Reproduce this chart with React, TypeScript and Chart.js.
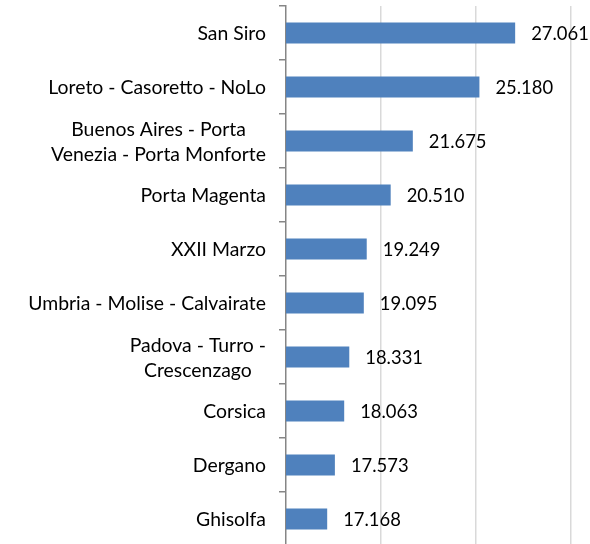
import React, { useEffect, useRef } from "react";
import { Chart, registerables } from "chart.js";

Chart.register(...registerables);

const categories: string[][] = [
  ["San Siro"],
  ["Loreto - Casoretto - NoLo"],
  ["Buenos Aires - Porta", "Venezia - Porta Monforte"],
  ["Porta Magenta"],
  ["XXII Marzo"],
  ["Umbria - Molise - Calvairate"],
  ["Padova - Turro -", "Crescenzago"],
  ["Corsica"],
  ["Dergano"],
  ["Ghisolfa"],
];
const values: number[] = [27061, 25180, 21675, 20510, 19249, 19095, 18331, 18063, 17573, 17168];
const axisMin = 15000;
const axisMax = 30000;
const axisStep = 5000;

const FONT = "Lato, 'Open Sans', sans-serif";
const CAT_SIZE = 19.4;
const VAL_SIZE = 18.4;

const fmt = (v: number) => (v / 1000).toFixed(3);

const labelPlugin = {
  id: "customLabels",
  afterDraw(chart: any) {
    const ctx = chart.ctx as CanvasRenderingContext2D;
    const yScale = chart.scales.y;
    ctx.save();
    ctx.fillStyle = "#000";
    ctx.textBaseline = "middle";
    // category labels
    ctx.font = `${CAT_SIZE}px ${FONT}`;
    ctx.textAlign = "center";
    const rightEdge = yScale.right - 20;
    categories.forEach((lines, i) => {
      const cy = yScale.getPixelForValue(i);
      const maxW = Math.max(...lines.map((l) => ctx.measureText(l).width));
      const cx = rightEdge - maxW / 2;
      const lh = 25;
      const start = cy - ((lines.length - 1) * lh) / 2;
      lines.forEach((l, j) => ctx.fillText(l, cx, start + j * lh + 1));
    });
    // value labels
    ctx.font = `${VAL_SIZE}px ${FONT}`;
    ctx.textAlign = "left";
    const meta = chart.getDatasetMeta(0);
    meta.data.forEach((bar: any, i: number) => {
      ctx.fillText(fmt(values[i]), bar.x + 16, bar.y + 1);
    });
    ctx.restore();
  },
};

export default function App() {
  const ref = useRef<HTMLCanvasElement>(null);
  useEffect(() => {
    if (!ref.current) return;
    const chart = new Chart(ref.current, {
      type: "bar",
      data: {
        labels: categories.map((c) => c.join(" ")),
        datasets: [
          {
            data: values,
            backgroundColor: "#4F81BD",
            barPercentage: 0.39,
            categoryPercentage: 1,
          },
        ],
      },
      options: {
        indexAxis: "y",
        responsive: false,
        animation: false,
        devicePixelRatio: 1,
        layout: { padding: { top: 6, right: 19, bottom: 0, left: 0 } },
        plugins: { legend: { display: false }, tooltip: { enabled: false } },
        scales: {
          x: {
            type: "linear",
            min: axisMin,
            max: axisMax,
            ticks: { display: false, stepSize: axisStep },
            grid: {
              drawTicks: false,
              color: (c: any) => (c.tick && c.tick.value === axisMin ? "rgba(0,0,0,0)" : "#d9d9d9"),
              lineWidth: 1.5,
            },
            border: { display: false },
            afterFit: (s: any) => {
              s.height = 0;
            },
          },
          y: {
            type: "category",
            ticks: { display: false },
            grid: {
              drawOnChartArea: false,
              drawTicks: true,
              tickLength: 7,
              offset: true,
              color: "#868686",
              lineWidth: 1.5,
            },
            border: { display: true, color: "#868686", width: 1.5 },
            afterFit: (s: any) => {
              s.width = 286;
            },
          },
        },
      },
      plugins: [labelPlugin],
    });
    return () => chart.destroy();
  }, []);
  return (
    <div style={{ position: "fixed", left: 0, top: 0, width: 590, height: 544, overflow: "hidden", background: "#fff" }}>
      <canvas ref={ref} width={590} height={546} style={{ display: "block" }} />
    </div>
  );
}
